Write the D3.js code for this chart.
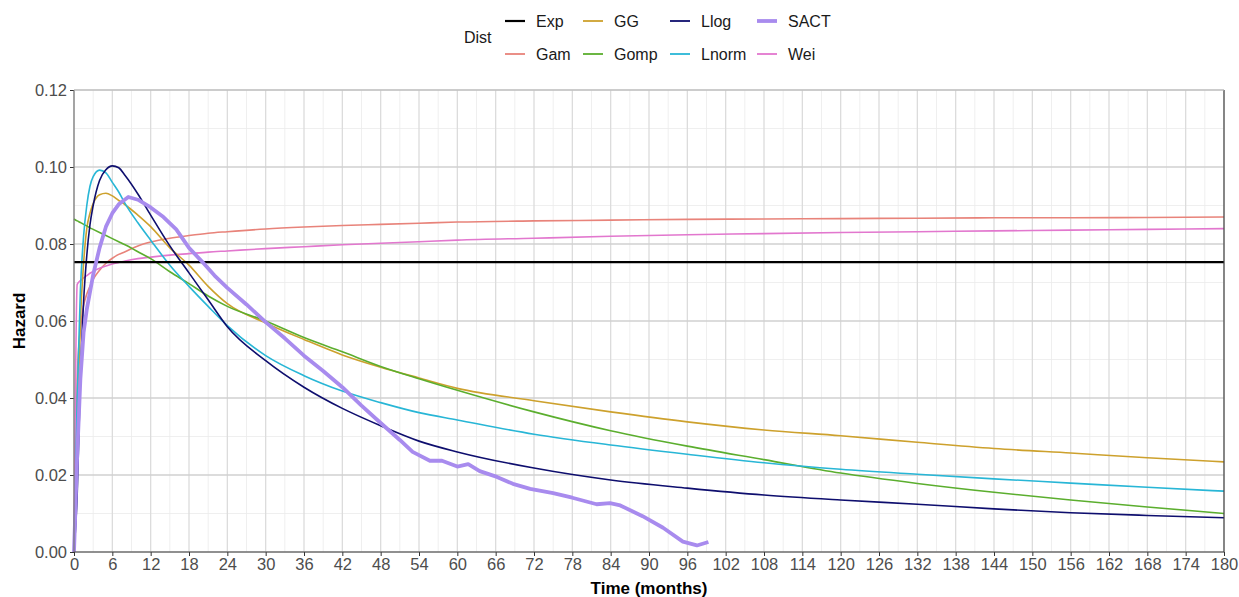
<!DOCTYPE html>
<html><head><meta charset="utf-8">
<script src="https://cdn.jsdelivr.net/npm/d3@7"></script>
<style>body{margin:0;background:#fff;} svg{display:block;font-family:"Liberation Sans",Arial,sans-serif;}</style>
</head><body><svg id="c" width="1239" height="597"></svg>
<script>
const distNames = ["Exp","Gam","GG","Gomp","Llog","Lnorm","SACT","Wei"];
const distColors = ["#000000","#E8837A","#CDA12D","#5BAE2E","#0E0E6E","#28B6D6","#A88BEE","#E277CE"];

const modelTimes = [0,0.5,1,1.5,2,2.5,3,4,5,6,7,8,10,12,15,18,21,24,30,36,42,48,54,60,72,84,96,108,120,132,144,156,168,180];
const gamValues   = [0,0.045,0.058,0.064,0.067,0.069,0.0708,0.0732,0.075,0.0763,0.0773,0.078,0.0795,0.0805,0.0815,0.0822,0.0828,0.0832,0.0839,0.0844,0.0848,0.0851,0.0854,0.0857,0.086,0.0862,0.0864,0.0865,0.0866,0.0867,0.0868,0.0868,0.0869,0.087];
const weiValues   = [0,0.0695,0.0705,0.0712,0.0718,0.0724,0.0729,0.0737,0.0743,0.0748,0.0752,0.0756,0.0762,0.0766,0.0771,0.0775,0.0779,0.0782,0.0788,0.0793,0.0798,0.0802,0.0806,0.081,0.0815,0.082,0.0824,0.0827,0.083,0.0832,0.0834,0.0836,0.0838,0.084];
const ggValues    = [0,0.03,0.06,0.075,0.084,0.088,0.0905,0.0928,0.0932,0.0925,0.0913,0.0902,0.0875,0.0845,0.079,0.0745,0.069,0.0645,0.0595,0.0552,0.0512,0.048,0.0452,0.0425,0.0393,0.0364,0.0338,0.0317,0.0302,0.0285,0.0269,0.0257,0.0245,0.0234];
const gompValues  = [0.0865,0.086,0.0856,0.0851,0.0847,0.0842,0.0838,0.083,0.0822,0.0814,0.0806,0.0798,0.078,0.0762,0.0728,0.0697,0.0665,0.0638,0.06,0.0557,0.052,0.0482,0.045,0.042,0.0364,0.0315,0.0275,0.024,0.0205,0.0178,0.0155,0.0135,0.0117,0.01];
const llogValues  = [0,0.015,0.045,0.065,0.077,0.085,0.09,0.0965,0.0993,0.1003,0.0998,0.0978,0.093,0.0875,0.0795,0.0725,0.0655,0.0585,0.0497,0.0428,0.0373,0.0328,0.0288,0.026,0.0218,0.0187,0.0166,0.0148,0.0135,0.0124,0.0112,0.0102,0.0095,0.0089];
const lnormValues = [0,0.04,0.068,0.082,0.09,0.095,0.0975,0.0992,0.0985,0.096,0.0935,0.0905,0.0855,0.081,0.0745,0.069,0.0638,0.0588,0.051,0.0458,0.0418,0.0388,0.0362,0.0343,0.0306,0.0278,0.0254,0.0232,0.0215,0.0202,0.019,0.0179,0.0168,0.0158];
const expTimes = [0,180];
const expValues = [0.0753,0.0753];
const sactTimes  = [0,0.5,1,1.5,2,3,4,5,6,7,8.5,10,12,14,16,18,20,22,24,27,30,33,36,39,42,45,48,51,53,55.7,57.6,60,61.7,63.5,66.2,68.7,71.4,75,78,81.8,83.9,85.5,89,92.2,95.3,97.5,99.3];
const sactValues = [0,0.025,0.045,0.057,0.063,0.072,0.079,0.0845,0.088,0.0903,0.0922,0.0915,0.0895,0.087,0.0838,0.079,0.0755,0.0718,0.0686,0.0643,0.0597,0.0555,0.051,0.047,0.0428,0.038,0.0335,0.0291,0.026,0.0237,0.0237,0.0222,0.0228,0.021,0.0195,0.0177,0.0164,0.0153,0.0141,0.0124,0.0127,0.0121,0.0093,0.0063,0.0027,0.0017,0.0026];

const xTicks = d3.range(0,181,6);
const yTicks = [0,0.02,0.04,0.06,0.08,0.10,0.12];

const svg = d3.select("#c");
const L=74,R=1224,T=90,B=552;
const x = d3.scaleLinear().domain([0,180]).range([L,R]);
const y = d3.scaleLinear().domain([0,0.12]).range([B,T]);

// grid
const g = svg.append("g");
d3.range(3,180,6).forEach(v=>g.append("line").attr("x1",x(v)).attr("x2",x(v)).attr("y1",T).attr("y2",B).attr("stroke","#EBEBEB").attr("stroke-width",0.8));
d3.range(0.01,0.12,0.02).forEach(v=>g.append("line").attr("x1",L).attr("x2",R).attr("y1",y(v)).attr("y2",y(v)).attr("stroke","#EBEBEB").attr("stroke-width",0.8));
xTicks.forEach(v=>g.append("line").attr("x1",x(v)).attr("x2",x(v)).attr("y1",T).attr("y2",B).attr("stroke","#DCDCDC").attr("stroke-width",1.3));
yTicks.forEach(v=>g.append("line").attr("x1",L).attr("x2",R).attr("y1",y(v)).attr("y2",y(v)).attr("stroke","#D0D0D0").attr("stroke-width",1.3));

// series
const series = [
  {name:"Gam", t:modelTimes, v:gamValues, w:1.6},
  {name:"Wei", t:modelTimes, v:weiValues, w:1.6},
  {name:"GG", t:modelTimes, v:ggValues, w:1.6},
  {name:"Gomp", t:modelTimes, v:gompValues, w:1.6},
  {name:"Lnorm", t:modelTimes, v:lnormValues, w:1.6},
  {name:"Llog", t:modelTimes, v:llogValues, w:1.6},
  {name:"Exp", t:expTimes, v:expValues, w:2.4},
  {name:"SACT", t:sactTimes, v:sactValues, w:3.8, linear:true}
];
const color = d3.scaleOrdinal().domain(distNames).range(distColors);
series.forEach(s=>{
  const pts = s.t.map((t,i)=>[t,s.v[i]]);
  const line = d3.line().x(d=>x(d[0])).y(d=>y(d[1])).curve(s.linear?d3.curveLinear:d3.curveMonotoneX);
  svg.append("path").datum(pts).attr("d",line).attr("fill","none").attr("stroke",color(s.name)).attr("stroke-width",s.w).attr("stroke-linejoin","round").attr("stroke-linecap","butt");
});

// axes
const xa = svg.append("g").attr("transform",`translate(0,${B})`).call(d3.axisBottom(x).tickValues(xTicks).tickSize(4).tickPadding(2));
const ya = svg.append("g").attr("transform",`translate(${L},0)`).call(d3.axisLeft(y).tickValues(yTicks).tickFormat(d3.format(".2f")).tickSize(4).tickPadding(3));
[xa,ya].forEach(a=>{a.select(".domain").remove(); a.selectAll("line").attr("stroke","#333"); a.selectAll("text").attr("fill","#4D4D4D").style("font-size","16.5px").style("font-family","Liberation Sans, Arial, sans-serif");});
svg.append("line").attr("x1",L).attr("x2",R).attr("y1",B).attr("y2",B).attr("stroke","#444").attr("stroke-width",1.2);
svg.append("line").attr("x1",L).attr("x2",L).attr("y1",T).attr("y2",B).attr("stroke","#777").attr("stroke-width",1.2);
svg.append("line").attr("x1",R).attr("x2",R).attr("y1",T).attr("y2",B).attr("stroke","#444").attr("stroke-width",1.2);
svg.append("line").attr("x1",L).attr("x2",R).attr("y1",T).attr("y2",T).attr("stroke","#BBB").attr("stroke-width",1.2);

svg.append("text").attr("x",(L+R)/2).attr("y",594).attr("text-anchor","middle").style("font-size","17px").style("font-weight","bold").text("Time (months)");
svg.append("text").attr("transform",`translate(25,${(T+B)/2}) rotate(-90)`).attr("text-anchor","middle").style("font-size","17px").style("font-weight","bold").text("Hazard");

// legend
const leg = svg.append("g");
leg.append("text").attr("x",464).attr("y",43).style("font-size","16px").attr("fill","#1a1a1a").text("Dist");
const legendRows = [["Exp","GG","Llog","SACT"],["Gam","Gomp","Lnorm","Wei"]];
const colX = [505,583,670,757];
const rowY = [21,54];
legendRows.forEach((row,ri)=>row.forEach((nm,ci)=>{
  const w = nm==="SACT"?3.8:(nm==="Exp"?2.2:1.8);
  leg.append("line").attr("x1",colX[ci]).attr("x2",colX[ci]+20).attr("y1",rowY[ri]).attr("y2",rowY[ri]).attr("stroke",color(nm)).attr("stroke-width",w);
  leg.append("text").attr("x",colX[ci]+31).attr("y",rowY[ri]+6).style("font-size","16px").attr("fill","#1a1a1a").text(nm);
}));
</script></body></html>
